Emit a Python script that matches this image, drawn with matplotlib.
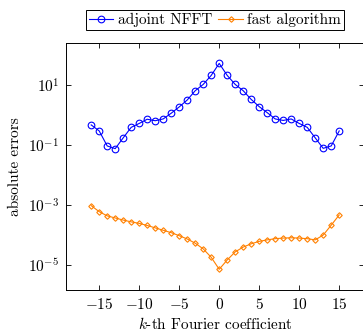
import numpy as np, matplotlib; matplotlib.use('Agg')
import matplotlib.pyplot as plt
from matplotlib.ticker import FixedLocator, NullLocator

plt.rcParams['font.family'] = 'serif'
plt.rcParams['font.serif'] = ['cmr10']
plt.rcParams['mathtext.fontset'] = 'cm'
plt.rcParams['axes.formatter.use_mathtext'] = True

# k-th coefficient and log10 of absolute errors
k = np.arange(-16, 16)
log_adjoint = [-0.33, -0.53, -1.03, -1.12, -0.76, -0.41, -0.28, -0.14, -0.19, -0.13, 0.06, 0.27, 0.50, 0.81, 1.02, 1.32,
               1.72, 1.32, 1.02, 0.81, 0.52, 0.28, 0.08, -0.13, -0.18, -0.13, -0.28, -0.41, -0.76, -1.11, -1.03, -0.53]
log_fast = [-3.02, -3.22, -3.36, -3.43, -3.50, -3.56, -3.61, -3.68, -3.76, -3.84, -3.92, -4.02, -4.13, -4.27, -4.46, -4.74,
            -5.14, -4.83, -4.56, -4.40, -4.29, -4.21, -4.16, -4.12, -4.10, -4.09, -4.10, -4.12, -4.16, -4.00, -3.67, -3.33]
err_adjoint = 10.0**np.array(log_adjoint)
err_fast = 10.0**np.array(log_fast)

fig = plt.figure(figsize=(3.63, 3.31), dpi=100)
ax = fig.add_axes([66/363, 41/331, 298/363, 247/331])

ax.plot(k, err_adjoint, color='#0000ff', lw=0.8, marker='o', ms=4.8, mfc='none', mew=0.8, label='adjoint NFFT')
ax.plot(k, err_fast, color='#ff8000', lw=0.8, marker='D', ms=2.8, mfc='none', mew=0.8, label='fast algorithm')

ax.set_yscale('log')
ax.set_xlim(-19.15, 18.1)
ax.set_ylim(10**-5.83, 10**2.4)
ax.xaxis.set_major_locator(FixedLocator([-15, -10, -5, 0, 5, 10, 15]))
ax.yaxis.set_major_locator(FixedLocator([1e-5, 1e-3, 1e-1, 1e1]))
ax.yaxis.set_minor_locator(NullLocator())
ax.tick_params(direction='in', length=3.5, width=0.6, top=True, right=True, labelsize=11, pad=5)
for s in ax.spines.values():
    s.set_linewidth(0.7)

ax.set_xlabel(r'$k$-th Fourier coefficient', fontsize=11, labelpad=3)
ax.set_ylabel('absolute errors', fontsize=11, labelpad=4)

leg = ax.legend(loc='lower center', bbox_to_anchor=(0.5, 1.053), ncol=2, fontsize=11, frameon=True, fancybox=False,
                edgecolor='black', framealpha=1, handlelength=1.6, handletextpad=0.3, columnspacing=0.4,
                borderpad=0.2, borderaxespad=0)
leg.get_frame().set_linewidth(0.7)

fig.savefig('out.png', dpi=100)
